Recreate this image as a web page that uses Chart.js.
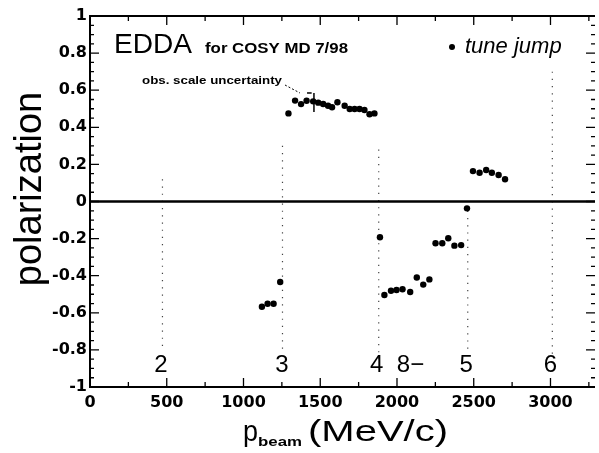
<!DOCTYPE html>
<html>
<head>
<meta charset="utf-8">
<script src="https://cdn.jsdelivr.net/npm/chart.js@4.4.1/dist/chart.umd.min.js"></script>
<style>
  html, body { margin: 0; padding: 0; background: #fff; }
</style>
</head>
<body>
<canvas id="chart" width="599" height="453"></canvas>
<script>
const beamMomentum = [
    1120, 1157, 1196, 1239,
    1293, 1336, 1375, 1411, 1454, 1487, 1519, 1551, 1577, 1612, 1659, 1692, 1724, 1756, 1788, 1821, 1853,
    1889, 1918, 1961, 1997, 2036, 2086, 2129, 2171, 2211,
    2251, 2295, 2334, 2374, 2418, 2456,
    2495, 2538, 2581, 2618, 2662, 2704
];
const polarization = [
    -0.567, -0.551, -0.551, -0.434,
    0.475, 0.544, 0.525, 0.543, 0.540, 0.533, 0.526, 0.516, 0.508, 0.535, 0.516, 0.499, 0.499, 0.499, 0.493, 0.470, 0.475,
    -0.193, -0.504, -0.481, -0.477, -0.473, -0.488, -0.410, -0.448, -0.420,
    -0.225, -0.225, -0.198, -0.238, -0.235, -0.037,
    0.164, 0.155, 0.170, 0.155, 0.143, 0.120
];

const xTickValues = [0, 500, 1000, 1500, 2000, 2500, 3000];
const yTickValues = [-1, -0.8, -0.6, -0.4, -0.2, 0, 0.2, 0.4, 0.6, 0.8, 1];
const xRange = [0, 3290];
const yRange = [-1, 1];

// resonance markers (dotted verticals) and their labels
const resonanceX = [472, 1254, 1881, 2461, 3012];
const resonanceTop = [0.12, 0.30, 0.28, -0.05, 0.70];
const resonanceBottom = [-0.80, -0.82, -0.85, -0.80, -0.85];
const resonanceLabels = ['2', '3', '4', '8\u2212', '5', '6'];
const resonanceLabelX = [462, 1251, 1868, 2088, 2450, 2999];
const resonanceLabelY = -0.92;

// absolute scale uncertainty bar
const uncertaintyX = 1459;
const uncertaintyRange = [0.482, 0.585];

const SANS = "'Liberation Sans', Arial, sans-serif";

const points = beamMomentum.map((p, i) => ({ x: p, y: polarization[i] }));

const resonanceSets = resonanceX.map((rx, i) => ({
    data: [{ x: rx, y: resonanceTop[i] }, { x: rx, y: resonanceBottom[i] }],
    showLine: true,
    borderColor: '#444',
    borderWidth: 1.2,
    borderDash: [1.2, 6],
    pointRadius: 0
}));

// draw text squeezed/stretched to a given width (the scanned lettering is wide)
function stretchText(ctx, text, x, y, width, font) {
    ctx.font = font;
    const w = ctx.measureText(text).width;
    ctx.save();
    ctx.translate(x, y);
    ctx.scale(width / w, 1);
    ctx.fillText(text, 0, 0);
    ctx.restore();
}

const framePlugin = {
    id: 'frame',
    afterDraw(chart) {
        const { ctx, chartArea: a, scales: { x, y } } = chart;
        ctx.save();
        ctx.strokeStyle = '#000';
        ctx.fillStyle = '#000';

        // frame
        ctx.lineWidth = 2;
        ctx.beginPath();
        ctx.moveTo(a.right, a.top);
        ctx.lineTo(a.left, a.top);
        ctx.lineTo(a.left, a.bottom);
        ctx.lineTo(a.right, a.bottom);
        ctx.stroke();

        // inward ticks
        ctx.lineWidth = 1.3;
        ctx.beginPath();
        for (let v = 0; v <= x.max; v += 250) {
            const px = x.getPixelForValue(v);
            const len = v % 500 === 0 ? 9 : 5;
            ctx.moveTo(px, a.bottom); ctx.lineTo(px, a.bottom - len);
            ctx.moveTo(px, a.top); ctx.lineTo(px, a.top + len);
        }
        for (let i = -20; i <= 20; i++) {
            const py = y.getPixelForValue(i * 0.05);
            const len = i % 4 === 0 ? 9 : 4;
            ctx.moveTo(a.left, py); ctx.lineTo(a.left + len, py);
            ctx.moveTo(a.right, py); ctx.lineTo(a.right - len, py);
        }
        ctx.stroke();

        // resonance labels
        ctx.font = '24px ' + SANS;
        ctx.textAlign = 'center';
        ctx.textBaseline = 'alphabetic';
        resonanceLabels.forEach((t, i) => {
            ctx.fillText(t, x.getPixelForValue(resonanceLabelX[i]), y.getPixelForValue(resonanceLabelY));
        });

        // header text
        ctx.textAlign = 'left';
        stretchText(ctx, 'EDDA', a.left + 24, 53, 78, '28px ' + SANS);
        stretchText(ctx, 'for COSY MD 7/98', a.left + 115, 53, 143, 'bold 14px ' + SANS);
        stretchText(ctx, 'obs. scale uncertainty', a.left + 52, 84, 140, 'bold 10px ' + SANS);

        // leader from the note to the uncertainty bar
        ctx.lineWidth = 1;
        ctx.setLineDash([2, 2]);
        ctx.beginPath();
        ctx.moveTo(a.left + 195, 85);
        ctx.lineTo(x.getPixelForValue(uncertaintyX) - 14, 93);
        ctx.stroke();
        ctx.setLineDash([]);

        // legend
        ctx.beginPath();
        ctx.arc(452, 47, 3, 0, Math.PI * 2);
        ctx.fill();
        ctx.font = 'italic 22px ' + SANS;
        ctx.fillText('tune jump', 465, 53);

        // axis titles
        stretchText(ctx, 'p', 243, 441, 15, '30px ' + SANS);
        stretchText(ctx, 'beam', 258, 446, 44, 'bold 13px ' + SANS);
        stretchText(ctx, '(MeV/c)', 308, 441, 140, '30px ' + SANS);

        ctx.save();
        ctx.translate(41, 189);
        ctx.rotate(-Math.PI / 2);
        ctx.textAlign = 'center';
        ctx.font = '38px ' + SANS;
        ctx.fillText('polarization', 0, 0);
        ctx.restore();

        ctx.restore();
    }
};

new Chart(document.getElementById('chart').getContext('2d'), {
    type: 'scatter',
    data: {
        datasets: [
            {
                data: points,
                backgroundColor: '#000',
                borderColor: '#000',
                pointRadius: 3.2,
                pointBorderWidth: 0
            },
            {
                data: [{ x: uncertaintyX, y: uncertaintyRange[0] }, { x: uncertaintyX, y: uncertaintyRange[1] }],
                showLine: true,
                borderColor: '#000',
                borderWidth: 1.5,
                pointRadius: 0
            },
            {
                data: [{ x: uncertaintyX - 45, y: uncertaintyRange[1] }, { x: uncertaintyX - 15, y: uncertaintyRange[1] }],
                showLine: true,
                borderColor: '#000',
                borderWidth: 1.5,
                pointRadius: 0
            },
            {
                data: [{ x: xRange[0], y: 0 }, { x: xRange[1], y: 0 }],
                showLine: true,
                borderColor: '#000',
                borderWidth: 2.5,
                pointRadius: 0
            },
            ...resonanceSets
        ]
    },
    options: {
        responsive: false,
        animation: false,
        layout: { padding: { top: 16, right: 0, bottom: 0, left: 0 } },
        plugins: {
            legend: { display: false },
            tooltip: { enabled: false }
        },
        scales: {
            x: {
                type: 'linear',
                min: xRange[0],
                max: xRange[1],
                afterBuildTicks: (scale) => { scale.ticks = xTickValues.map(v => ({ value: v })); },
                afterFit: (scale) => { scale.height = 66; },
                grid: { display: false, drawTicks: false },
                border: { display: false },
                ticks: {
                    padding: 6,
                    color: '#000',
                    maxRotation: 0,
                    font: { family: "'DejaVu Sans'", weight: 'bold', size: 16 },
                    callback: (v) => String(v)
                }
            },
            y: {
                min: yRange[0],
                max: yRange[1],
                afterBuildTicks: (scale) => { scale.ticks = yTickValues.map(v => ({ value: v })); },
                afterFit: (scale) => { scale.width = 90; },
                grid: { display: false, drawTicks: false },
                border: { display: false },
                ticks: {
                    padding: 3,
                    color: '#000',
                    font: { family: "'DejaVu Sans'", weight: 'bold', size: 16 },
                    callback: (v) => String(Math.round(v * 10) / 10)
                }
            }
        }
    },
    plugins: [framePlugin]
});
</script>
</body>
</html>
